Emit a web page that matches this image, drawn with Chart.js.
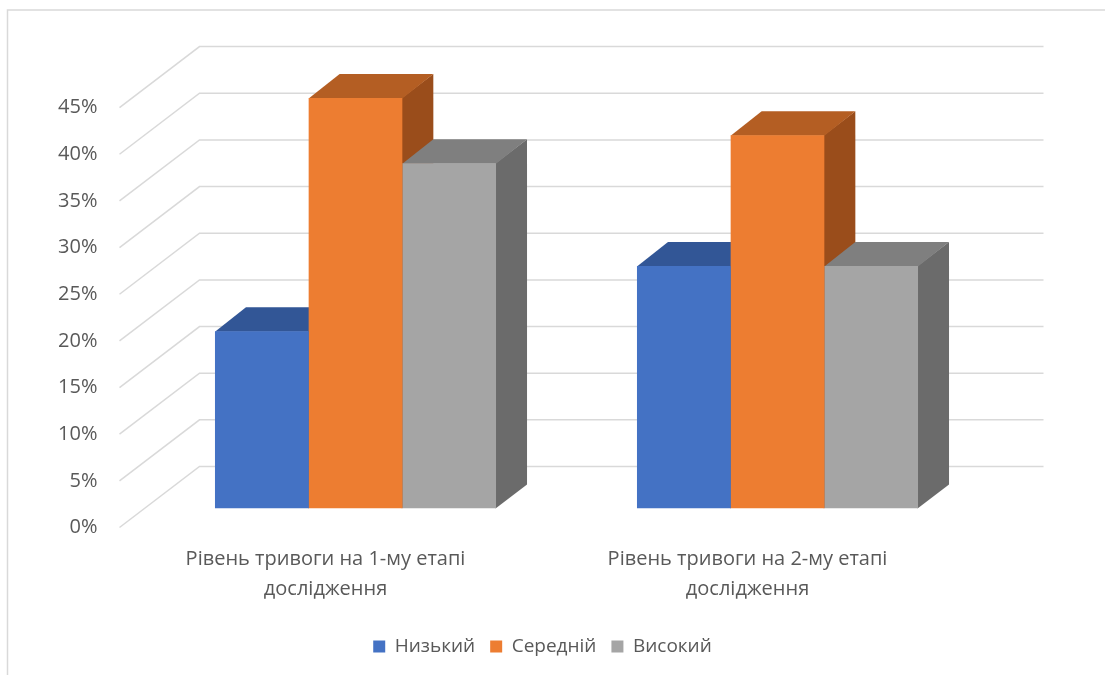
<!DOCTYPE html>
<html>
<head>
<meta charset="utf-8">
<script src="https://cdn.jsdelivr.net/npm/chart.js@4.4.0/dist/chart.umd.min.js"></script>
<style>
  html, body { margin: 0; padding: 0; background: #fff; overflow: hidden; }
  #wrap { position: relative; width: 1105px; height: 675px; }
</style>
</head>
<body>
<div id="wrap"><canvas id="myBarChart"></canvas></div>
<script>
// дані з діаграми (у відсотках)
var categories = [
  ['Рівень тривоги на 1-му етапі', 'дослідження'],
  ['Рівень тривоги на 2-му етапі', 'дослідження']
];
var seriesNames = ['Низький', 'Середній', 'Високий'];
var nyzkyi = [19, 26];
var seredniy = [44, 40];
var vysokyi = [37, 26];
var yTicks = [0, 5, 10, 15, 20, 25, 30, 35, 40, 45];

// кольори граней
var frontColors = ['#4472C4', '#ED7D31', '#A5A5A5'];
var topColors = ['#325696', '#B45E23', '#7F7F7F'];
var sideColors = ['#2B4A82', '#9A4D1B', '#6B6B6B'];
var textColor = '#595959';
var fontFamily = '"Open Sans", "Noto Sans", sans-serif';

// зсуви для псевдо-3D (площина стовпчиків -> передня / задня стінка)
var depth = {
  front: { dx: -25, dy: 19 },
  back: { dx: 55, dy: -42 },
  bar: { dx: 31, dy: -24 }
};

var bar3d = {
  id: 'bar3d',
  beforeDraw: function (chart) {
    var ctx = chart.ctx;
    ctx.save();
    ctx.fillStyle = '#fff';
    ctx.fillRect(0, 0, chart.width, chart.height);
    ctx.strokeStyle = '#d9d9d9';
    ctx.lineWidth = 1.5;
    ctx.strokeRect(7.5, 10, chart.width + 20, chart.height + 20);
    ctx.restore();
  },
  beforeDatasetsDraw: function (chart) {
    var ctx = chart.ctx;
    var area = chart.chartArea;
    var y = chart.scales.y;
    ctx.save();
    // сітка: бокова стінка + задня стінка
    ctx.strokeStyle = '#d9d9d9';
    ctx.lineWidth = 1.5;
    y.ticks.forEach(function (t) {
      var py = y.getPixelForValue(t.value);
      ctx.beginPath();
      ctx.moveTo(area.left + depth.front.dx, py + depth.front.dy);
      ctx.lineTo(area.left + depth.back.dx, py + depth.back.dy);
      ctx.lineTo(area.right + depth.back.dx, py + depth.back.dy);
      ctx.stroke();
    });
    // бокові та верхні грані, зліва направо
    var dx = depth.bar.dx, dy = depth.bar.dy;
    for (var j = 0; j < chart.data.labels.length; j++) {
      for (var i = 0; i < chart.data.datasets.length; i++) {
        var el = chart.getDatasetMeta(i).data[j];
        var p = el.getProps(['x', 'y', 'base', 'width'], true);
        var l = p.x - p.width / 2, r = p.x + p.width / 2;
        ctx.fillStyle = sideColors[i];
        ctx.beginPath();
        ctx.moveTo(r - 0.5, p.y);
        ctx.lineTo(r + dx, p.y + dy);
        ctx.lineTo(r + dx, p.base + dy);
        ctx.lineTo(r - 0.5, p.base);
        ctx.closePath();
        ctx.fill();
        ctx.fillStyle = topColors[i];
        ctx.beginPath();
        ctx.moveTo(l, p.y + 0.5);
        ctx.lineTo(l + dx, p.y + dy);
        ctx.lineTo(r + dx, p.y + dy);
        ctx.lineTo(r, p.y + 0.5);
        ctx.closePath();
        ctx.fill();
      }
    }
    ctx.restore();
  }
};

var seriesData = [nyzkyi, seredniy, vysokyi];
var datasets = seriesNames.map(function (name, i) {
  return {
    label: name,
    data: seriesData[i],
    backgroundColor: frontColors[i],
    borderWidth: 0,
    barPercentage: 1,
    categoryPercentage: 0.666
  };
});

var ctx = document.getElementById('myBarChart').getContext('2d');
var _myChart = new Chart(ctx, {
  type: 'bar',
  data: { labels: categories, datasets: datasets },
  plugins: [bar3d],
  options: {
    responsive: true,
    maintainAspectRatio: false,
    animation: false,
    layout: { padding: { top: 88.6, left: 0, right: 20, bottom: 9 } },
    scales: {
      x: {
        grid: { display: false, drawTicks: false },
        border: { display: false },
        ticks: {
          color: textColor,
          font: { family: fontFamily, size: 20, lineHeight: 1.5 },
          padding: 36,
          labelOffset: -30,
          maxRotation: 0,
          autoSkip: false
        },
        afterFit: function (s) { s.height = 113.5; }
      },
      y: {
        min: 0,
        max: 45,
        grid: { display: false, drawTicks: false },
        border: { display: false },
        afterBuildTicks: function (s) {
          s.ticks = yTicks.map(function (v) { return { value: v }; });
        },
        ticks: {
          color: textColor,
          font: { family: fontFamily, size: 20 },
          padding: 47,
          labelOffset: 19,
          callback: function (value) { return value + '%'; }
        },
        afterFit: function (s) { s.width = 144.5; }
      },
      y2: {
        position: 'right',
        grid: { display: false, drawTicks: false },
        border: { display: false },
        ticks: { display: false },
        afterFit: function (s) { s.width = 96.5; }
      }
    },
    plugins: {
      legend: {
        position: 'bottom',
        labels: {
          color: textColor,
          font: { family: fontFamily, size: 19 },
          boxWidth: 12,
          boxHeight: 12,
          padding: 15
        }
      },
      tooltip: { enabled: false }
    }
  }
});
</script>
</body>
</html>
